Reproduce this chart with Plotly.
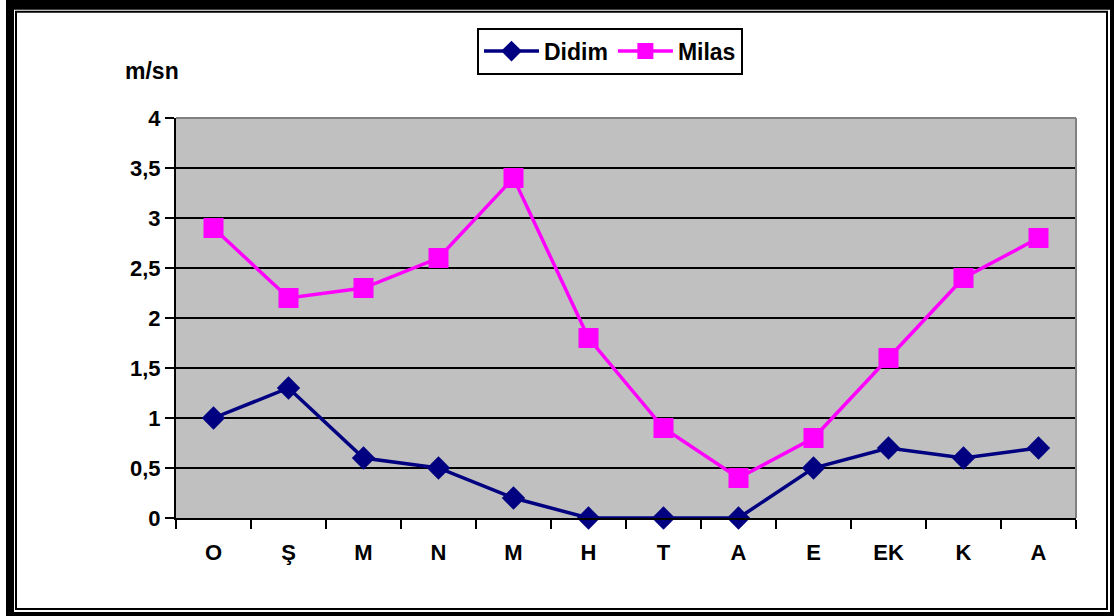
import plotly.graph_objects as go

# monthly mean wind speed (m/sn)
months = ["O", "Ş", "M", "N", "M", "H", "T", "A", "E", "EK", "K", "A"]
didim = [1.0, 1.3, 0.6, 0.5, 0.2, 0.0, 0.0, 0.0, 0.5, 0.7, 0.6, 0.7]
milas = [2.9, 2.2, 2.3, 2.6, 3.4, 1.8, 0.9, 0.4, 0.8, 1.6, 2.4, 2.8]
y_ticks = [0, 0.5, 1, 1.5, 2, 2.5, 3, 3.5, 4]

W, H = 1114, 616
L, R, T, B = 176, 1076, 117.5, 518
FONT = "Liberation Sans, Arial, sans-serif"


def px(x):
    return (x - L) / (R - L)


def py(y):
    return (B - y) / (B - T)


xpos = [i + 0.5 for i in range(len(months))]

fig = go.Figure()
fig.add_trace(go.Scatter(
    x=xpos, y=didim, name="Didim", mode="lines+markers", cliponaxis=False,
    line=dict(color="#000080", width=3.5),
    marker=dict(symbol="diamond", size=18, color="#000080"),
))
fig.add_trace(go.Scatter(
    x=xpos, y=milas, name="Milas", mode="lines+markers", cliponaxis=False,
    line=dict(color="#FF00FF", width=3.5),
    marker=dict(symbol="square", size=20, color="#FF00FF"),
))

shapes = [
    # outer black frame with shadow
    dict(type="rect", xref="paper", yref="paper", x0=px(6), x1=px(W + 2), y0=py(-2), y1=py(H + 2),
         fillcolor="black", line=dict(width=0), layer="below"),
    dict(type="rect", xref="paper", yref="paper", x0=px(14), x1=px(1110), y0=py(9), y1=py(612),
         fillcolor="white", line=dict(width=0), layer="below"),
    dict(type="rect", xref="paper", yref="paper", x0=px(16), x1=px(1107), y0=py(11), y1=py(609),
         fillcolor="white", line=dict(color="black", width=2), layer="below"),
    # plot area
    dict(type="rect", xref="paper", yref="paper", x0=0, x1=1, y0=0, y1=1,
         fillcolor="#C0C0C0", line=dict(width=0), layer="below"),
    dict(type="line", xref="paper", yref="paper", x0=0, x1=1, y0=1, y1=1,
         line=dict(color="#808080", width=2), layer="above"),
    dict(type="line", xref="paper", yref="paper", x0=1, x1=1, y0=0, y1=1,
         line=dict(color="#808080", width=2), layer="above"),
]

fig.update_layout(
    width=W, height=H,
    margin=dict(l=L, r=W - R, t=T, b=H - B),
    paper_bgcolor="white",
    plot_bgcolor="rgba(0,0,0,0)",
    separators=",.",
    font=dict(family=FONT, size=18, color="black"),
    shapes=shapes,
    showlegend=True,
    legend=dict(
        orientation="h", x=px(610), xanchor="center", y=py(27), yanchor="top",
        bgcolor="white", bordercolor="black", borderwidth=2,
        font=dict(family=FONT, size=23, color="black", weight="bold"),
        itemwidth=55, tracegroupgap=0,
    ),
    annotations=[dict(
        text="<b>m/sn</b>", xref="paper", yref="paper", x=px(152), y=py(70),
        xanchor="center", yanchor="middle", showarrow=False,
        font=dict(family=FONT, size=23, color="black"),
    )],
    xaxis=dict(
        range=[0, 12], tickvals=xpos, ticktext=months, ticks="",
        showgrid=False, zeroline=False,
        showline=True, linecolor="black", linewidth=2,
        tickfont=dict(family=FONT, size=22, color="black", weight="bold"),
        ticklabelstandoff=14,
        minor=dict(ticks="outside", tick0=0, dtick=1, ticklen=9, tickwidth=2,
                   tickcolor="black", showgrid=False),
    ),
    yaxis=dict(
        range=[0, 4], tickvals=y_ticks, ticks="outside", ticklen=9, tickwidth=2,
        tickcolor="black", showgrid=True, gridcolor="black", gridwidth=2,
        zeroline=False, showline=True, linecolor="black", linewidth=2,
        tickfont=dict(family=FONT, size=22, color="black", weight="bold"),
    ),
)

fig.write_html("out.html", config={"displayModeBar": False},
               post_script="document.body.style.margin='0';")
